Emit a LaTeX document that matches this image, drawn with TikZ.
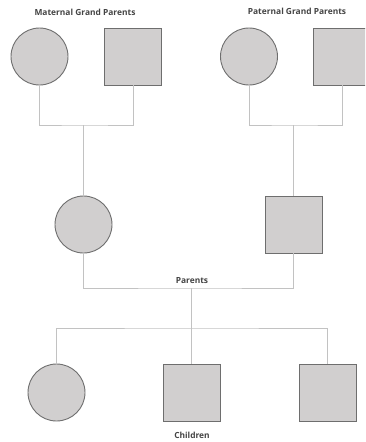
\documentclass[tikz,border=0pt]{standalone}
\usepackage{fontspec}
\setmainfont{Open Sans}
\begin{document}
\begin{tikzpicture}[x=1pt,y=-1pt,
  female/.style={circle,draw=border,fill=shape,line width=0.9pt,minimum size=57pt,inner sep=0pt},
  male/.style={rectangle,draw=border,fill=shape,line width=0.9pt,minimum size=57pt,inner sep=0pt},
  link/.style={draw=linec,line width=0.9pt},
  lbl/.style={font=\bfseries\fontsize{8.4}{10}\selectfont,text=txt,inner sep=0pt}]
\definecolor{border}{HTML}{6E6E6E}
\definecolor{shape}{HTML}{D1CFCF}
\definecolor{linec}{HTML}{C2C2C2}
\definecolor{txt}{HTML}{444444}
\useasboundingbox (0,0) rectangle (365,442);
\clip (0,0) rectangle (365,442);
% grand parents
\node[female] (mgm) at (39.5,56.5) {};
\node[male] (mgf) at (133,56.5) {};
\node[female] (pgm) at (249,56.5) {};
\node[male] (pgf) at (342,56.5) {};
\node[lbl] (tm) at (85,12) {Maternal Grand Parents};
\node[lbl] (tp) at (297,11) {Paternal Grand Parents};
% parents
\node[female] (mom) at (83.5,224.5) {};
\node[male] (dad) at (293.5,224.5) {};
\node[lbl] (tpar) at (192,281) {Parents};
% children
\node[female] (c1) at (56.5,392.5) {};
\node[male] (c2) at (191.5,392.5) {};
\node[male] (c3) at (327.5,392.5) {};
\node[lbl] (tch) at (192,435) {Children};
% junction coordinates
\coordinate (jm) at (83.5,125);
\coordinate (jp) at (293.5,125);
\coordinate (jc) at (191.5,288);
\coordinate (jk) at (191.5,328);
% links
\draw[link] (mgm.south) |- (jm) -| (mgf.south);
\draw[link] (jm) -- (mom.north);
\draw[link] (pgm.south) |- (jp) -| (pgf.south);
\draw[link] (jp) -- (dad.north);
\draw[link] (mom.south) |- (jc) -| (dad.south);
\draw[link] (jc) -- (c2.north);
\draw[link] (c1.north) |- (jk) -| (c3.north);
\end{tikzpicture}
\end{document}
